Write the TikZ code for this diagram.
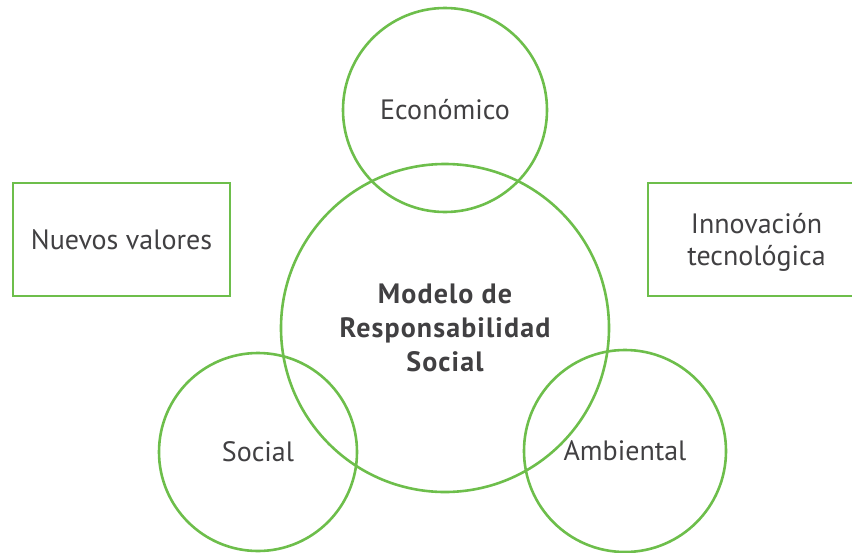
\documentclass[tikz,border=0pt]{standalone}
\usepackage{fontspec}
\setmainfont{PT Sans}
\usepackage{xcolor}
\definecolor{verde}{HTML}{6DBE4B}
\definecolor{texto}{HTML}{414042}

\begin{document}
\begin{tikzpicture}[x=1pt, y=-1pt,
    ring/.style={circle, draw=verde, line width=2.6pt, inner sep=0pt, text=texto,
      font=\fontsize{28}{34}\selectfont, text height=19.6pt, text depth=0pt, align=center},
    box/.style={rectangle, draw=verde, line width=2.6pt, minimum width=217pt, minimum height=113pt,
      inner sep=0pt, text=texto, font=\fontsize{28}{32}\selectfont, text height=19.6pt, text depth=0pt, align=center}]
  \useasboundingbox (0,0) rectangle (852,552);
  \clip (0,0) rectangle (852,552);

  \node[ring, minimum size=204pt] (eco) at (445,110) {Económico};
  \node[ring, minimum size=328pt, text height=87.6pt,
    font=\fontsize{28}{34}\selectfont\bfseries\addfontfeatures{LetterSpace=4}] (modelo) at (445,328)
    {Modelo de\\Responsabilidad\\Social};
  \node[ring, minimum size=198pt] (social) at (258,452) {Social};
  \node[ring, minimum size=202pt] (amb) at (625,451) {Ambiental};

  \node[box] (valores) at (121.5,239.5) {Nuevos valores};
  \node[box, text height=51.6pt] (innova) at (756.5,239.5) {Innovación\\tecnológica};
\end{tikzpicture}
\end{document}
